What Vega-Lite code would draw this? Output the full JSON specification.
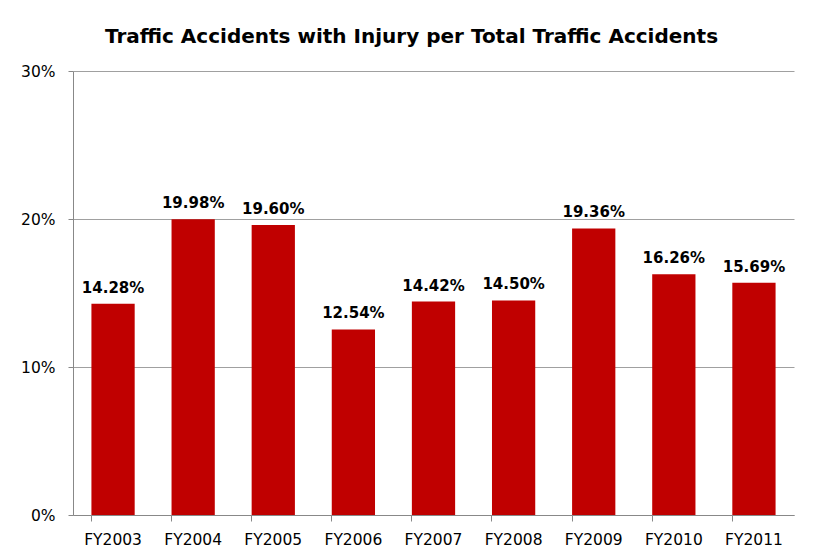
{
  "$schema": "https://vega.github.io/schema/vega-lite/v6.json",
  "width": 721,
  "height": 444,
  "autosize": {"type": "none"},
  "padding": {"left": 73, "top": 71, "right": 23, "bottom": 41},
  "background": "white",
  "title": {
    "text": "Traffic Accidents with Injury per Total Traffic Accidents",
    "font": "DejaVu Sans",
    "fontSize": 20,
    "fontWeight": "bold",
    "color": "#000000",
    "anchor": "middle",
    "dx": -22,
    "offset": 17
  },
  "data": {
    "values": [
      {"year": "FY2003", "rate": 0.1428, "label": "14.28%"},
      {"year": "FY2004", "rate": 0.1998, "label": "19.98%"},
      {"year": "FY2005", "rate": 0.1960, "label": "19.60%"},
      {"year": "FY2006", "rate": 0.1254, "label": "12.54%"},
      {"year": "FY2007", "rate": 0.1442, "label": "14.42%"},
      {"year": "FY2008", "rate": 0.1450, "label": "14.50%"},
      {"year": "FY2009", "rate": 0.1936, "label": "19.36%"},
      {"year": "FY2010", "rate": 0.1626, "label": "16.26%"},
      {"year": "FY2011", "rate": 0.1569, "label": "15.69%"}
    ]
  },
  "encoding": {
    "x": {
      "field": "year",
      "type": "nominal",
      "sort": null,
      "scale": {"paddingInner": 0.46, "paddingOuter": 0.23},
      "axis": {
        "title": null,
        "labelAngle": 0,
        "labelFont": "DejaVu Sans",
        "labelFontSize": 15.5,
        "labelColor": "#000000",
        "labelPadding": 11,
        "domainColor": "#888888",
        "tickColor": "#888888",
        "tickSize": 6,
        "bandPosition": 0,
        "grid": false
      }
    },
    "y": {
      "field": "rate",
      "type": "quantitative",
      "scale": {"domain": [0, 0.3], "nice": false},
      "axis": {
        "title": null,
        "format": ".0%",
        "values": [0, 0.1, 0.2, 0.3],
        "labelFont": "DejaVu Sans",
        "labelFontSize": 15.5,
        "labelColor": "#000000",
        "labelPadding": 13,
        "domainColor": "#888888",
        "tickColor": "#888888",
        "tickSize": 5,
        "gridColor": "#a0a0a0",
        "gridWidth": 1
      }
    }
  },
  "layer": [
    {"mark": {"type": "bar", "color": "#c00000"}},
    {
      "mark": {
        "type": "text",
        "baseline": "alphabetic",
        "dy": -11,
        "font": "DejaVu Sans",
        "fontSize": 15,
        "fontWeight": "bold",
        "color": "#000000"
      },
      "encoding": {"text": {"field": "label"}}
    }
  ],
  "config": {
    "view": {"stroke": null}
  }
}
